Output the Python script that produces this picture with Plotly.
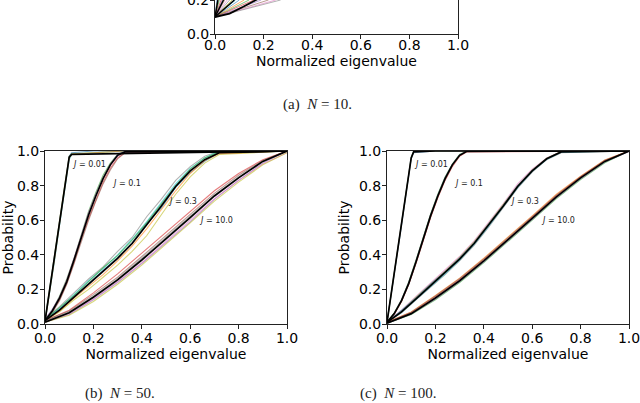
import plotly.graph_objects as go

W, H = 640, 403

# ---------------- data ----------------
J_NAMES = ["0.01", "0.1", "0.3", "10.0"]
LABEL_X = [0.105, 0.27, 0.50, 0.63]
LABEL_Y = [0.92, 0.81, 0.71, 0.60]

# x grids for each J (shared by panels b and c)
X_J001 = [0, 0.02, 0.04, 0.06, 0.08, 0.10, 0.11, 0.20, 0.33, 1.0]
X_J01 = [0, 0.03, 0.06, 0.09, 0.12, 0.15, 0.18, 0.21, 0.24, 0.27, 0.30, 0.33, 1.0]
X_J03 = [0, 0.06, 0.12, 0.18, 0.24, 0.30, 0.36, 0.42, 0.48, 0.54, 0.60, 0.66, 0.72, 1.0]
X_J10 = [0, 0.1, 0.2, 0.3, 0.4, 0.5, 0.6, 0.7, 0.8, 0.9, 1.0]

# ---- panel (b) N = 50 ----
B_J001_BLACK = [0.015, 0.20, 0.39, 0.585, 0.775, 0.965, 0.98, 0.982, 0.985, 1.0]
B_J001_RUNS = [
    [0.02, 0.22, 0.41, 0.60, 0.79, 0.97, 0.985, 0.99, 1.0, 1.0],
    [0.01, 0.18, 0.37, 0.57, 0.76, 0.95, 0.98, 0.99, 1.0, 1.0],
    [0.02, 0.21, 0.40, 0.59, 0.78, 0.97, 0.99, 1.0, 1.0, 1.0],
    [0.01, 0.19, 0.38, 0.58, 0.77, 0.96, 0.98, 0.99, 1.0, 1.0],
]
B_J01_BLACK = [0.02, 0.075, 0.15, 0.245, 0.37, 0.50, 0.63, 0.74, 0.84, 0.92, 0.975, 0.995, 1.0]
B_J01_RUNS = [
    [0.02, 0.08, 0.16, 0.26, 0.38, 0.52, 0.65, 0.76, 0.86, 0.93, 0.98, 1.0, 1.0],
    [0.02, 0.07, 0.14, 0.235, 0.355, 0.49, 0.61, 0.72, 0.82, 0.90, 0.96, 0.99, 1.0],
    [0.03, 0.085, 0.155, 0.25, 0.375, 0.505, 0.64, 0.75, 0.845, 0.925, 0.98, 1.0, 1.0],
    [0.02, 0.065, 0.135, 0.23, 0.35, 0.48, 0.60, 0.71, 0.81, 0.89, 0.955, 0.99, 1.0],
    [0.02, 0.08, 0.155, 0.255, 0.38, 0.515, 0.64, 0.745, 0.84, 0.915, 0.97, 0.995, 1.0],
]
B_J03_BLACK = [0.02, 0.08, 0.155, 0.23, 0.30, 0.38, 0.465, 0.57, 0.68, 0.795, 0.885, 0.95, 0.99, 1.0]
B_J03_RUNS = [
    [0.03, 0.10, 0.18, 0.26, 0.33, 0.42, 0.50, 0.62, 0.72, 0.83, 0.91, 0.97, 1.0, 1.0],
    [0.02, 0.07, 0.14, 0.20, 0.27, 0.34, 0.42, 0.51, 0.63, 0.75, 0.85, 0.93, 0.98, 1.0],
    [0.03, 0.09, 0.17, 0.25, 0.32, 0.40, 0.49, 0.59, 0.70, 0.81, 0.90, 0.96, 1.0, 1.0],
    [0.02, 0.085, 0.16, 0.235, 0.31, 0.385, 0.47, 0.58, 0.67, 0.79, 0.875, 0.94, 0.99, 1.0],
    [0.02, 0.075, 0.15, 0.22, 0.285, 0.365, 0.45, 0.55, 0.66, 0.77, 0.87, 0.945, 0.985, 1.0],
    [0.025, 0.095, 0.165, 0.245, 0.325, 0.395, 0.485, 0.585, 0.695, 0.80, 0.895, 0.96, 0.995, 1.0],
]
B_J10_BLACK = [0.01, 0.065, 0.155, 0.255, 0.37, 0.49, 0.615, 0.74, 0.845, 0.94, 1.0]
B_J10_RUNS = [
    [0.02, 0.08, 0.18, 0.29, 0.41, 0.53, 0.65, 0.77, 0.87, 0.95, 1.0],
    [0.01, 0.055, 0.14, 0.24, 0.35, 0.47, 0.59, 0.72, 0.83, 0.93, 1.0],
    [0.02, 0.075, 0.17, 0.27, 0.39, 0.51, 0.635, 0.755, 0.86, 0.945, 1.0],
    [0.01, 0.06, 0.145, 0.245, 0.355, 0.475, 0.60, 0.725, 0.83, 0.925, 0.99],
    [0.015, 0.07, 0.16, 0.26, 0.38, 0.50, 0.625, 0.745, 0.85, 0.94, 1.0],
    [0.01, 0.05, 0.13, 0.23, 0.34, 0.46, 0.585, 0.71, 0.82, 0.92, 0.99],
]

# ---- panel (c) N = 100 ----
C_J001_BLACK = [0.01, 0.195, 0.385, 0.575, 0.77, 0.96, 0.995, 1.0, 1.0, 1.0]
C_J001_RUNS = [
    [0.01, 0.20, 0.39, 0.58, 0.775, 0.965, 0.998, 1.0, 1.0, 1.0],
    [0.01, 0.19, 0.38, 0.57, 0.765, 0.955, 0.99, 1.0, 1.0, 1.0],
    [0.01, 0.198, 0.39, 0.578, 0.772, 0.962, 0.996, 1.0, 1.0, 1.0],
]
C_J01_BLACK = [0.01, 0.06, 0.135, 0.235, 0.36, 0.495, 0.625, 0.74, 0.84, 0.92, 0.975, 0.998, 1.0]
C_J01_RUNS = [
    [0.01, 0.065, 0.14, 0.245, 0.37, 0.505, 0.635, 0.75, 0.85, 0.925, 0.98, 1.0, 1.0],
    [0.01, 0.055, 0.13, 0.23, 0.35, 0.485, 0.615, 0.73, 0.83, 0.91, 0.97, 0.995, 1.0],
    [0.01, 0.06, 0.14, 0.24, 0.365, 0.50, 0.63, 0.745, 0.845, 0.922, 0.978, 0.999, 1.0],
    [0.01, 0.058, 0.132, 0.232, 0.355, 0.49, 0.62, 0.735, 0.835, 0.915, 0.972, 0.997, 1.0],
]
C_J03_BLACK = [0.01, 0.07, 0.145, 0.22, 0.295, 0.375, 0.465, 0.57, 0.68, 0.795, 0.885, 0.955, 0.995, 1.0]
C_J03_RUNS = [
    [0.01, 0.08, 0.16, 0.235, 0.31, 0.39, 0.48, 0.585, 0.695, 0.81, 0.895, 0.96, 0.998, 1.0],
    [0.01, 0.065, 0.14, 0.21, 0.285, 0.365, 0.455, 0.56, 0.67, 0.785, 0.878, 0.95, 0.99, 1.0],
    [0.01, 0.075, 0.155, 0.228, 0.305, 0.385, 0.475, 0.58, 0.69, 0.80, 0.89, 0.958, 0.997, 1.0],
    [0.01, 0.068, 0.142, 0.215, 0.29, 0.37, 0.46, 0.565, 0.675, 0.79, 0.882, 0.952, 0.993, 1.0],
    [0.01, 0.078, 0.152, 0.23, 0.302, 0.382, 0.47, 0.575, 0.686, 0.80, 0.888, 0.957, 0.996, 1.0],
]
C_J10_BLACK = [0.005, 0.06, 0.15, 0.25, 0.365, 0.485, 0.61, 0.735, 0.845, 0.94, 1.0]
C_J10_RUNS = [
    [0.01, 0.07, 0.165, 0.265, 0.38, 0.50, 0.625, 0.75, 0.855, 0.948, 1.0],
    [0.005, 0.055, 0.14, 0.24, 0.355, 0.475, 0.60, 0.725, 0.835, 0.932, 1.0],
    [0.01, 0.065, 0.158, 0.258, 0.372, 0.492, 0.618, 0.742, 0.85, 0.944, 1.0],
    [0.005, 0.058, 0.145, 0.245, 0.36, 0.48, 0.605, 0.73, 0.84, 0.936, 0.998],
    [0.01, 0.068, 0.162, 0.262, 0.376, 0.496, 0.62, 0.745, 0.852, 0.946, 1.0],
]

# ---- panel (a) N = 10 (only bottom strip visible) ----
A_START = 0.1
A_TOP = 0.2
A_RUN_ENDS = [0.008, 0.012, 0.018, 0.025, 0.03, 0.04, 0.05, 0.06, 0.07, 0.085, 0.10,
              0.12, 0.14, 0.16, 0.19, 0.22, 0.25, 0.27]
A_BLACK_ENDS = [0.012, 0.035, 0.08]
A_J10_X = [0, 0.06, 0.116, 0.158, 0.20, 0.30]
A_J10_Y = [0.1, 0.12, 0.16, 0.19, 0.22, 0.30]

TAB10 = ["31,119,180", "255,127,14", "44,160,44", "214,39,40", "148,103,189",
         "140,86,75", "227,119,194", "127,127,127", "188,189,34", "23,190,207"]

fig = go.Figure()
ci = [0]


def run_color():
    c = TAB10[ci[0] % len(TAB10)]
    ci[0] += 1
    return f"rgba({c},0.6)"


def add_line(x, y, xa, ya, color, width):
    fig.add_trace(go.Scatter(x=x, y=y, mode="lines", xaxis=xa, yaxis=ya,
                             line=dict(color=color, width=width),
                             hoverinfo="skip", showlegend=False))


def add_panel(xa, ya, groups):
    for xs, black, runs in groups:
        for r in runs:
            add_line(xs, r, xa, ya, run_color(), 1.1)
    for xs, black, runs in groups:
        add_line(xs, black, xa, ya, "black", 1.7)
    for name, lx, ly in zip(J_NAMES, LABEL_X, LABEL_Y):
        fig.add_annotation(x=lx, y=ly, xref=xa, yref=ya, text=f"<i>J</i> = {name}",
                           showarrow=False, xanchor="left", yanchor="middle",
                           font=dict(family="DejaVu Sans", size=8, color="#222"))


# panel a
for xe in A_RUN_ENDS:
    add_line([0, xe], [A_START, A_TOP], "x", "y", run_color(), 1.0)
for xe in A_BLACK_ENDS:
    add_line([0, xe], [A_START, A_TOP], "x", "y", "black", 1.5)
add_line(A_J10_X, A_J10_Y, "x", "y", "black", 1.8)

add_panel("x2", "y2", [(X_J001, B_J001_BLACK, B_J001_RUNS), (X_J01, B_J01_BLACK, B_J01_RUNS),
                       (X_J03, B_J03_BLACK, B_J03_RUNS), (X_J10, B_J10_BLACK, B_J10_RUNS)])
add_panel("x3", "y3", [(X_J001, C_J001_BLACK, C_J001_RUNS), (X_J01, C_J01_BLACK, C_J01_RUNS),
                       (X_J03, C_J03_BLACK, C_J03_RUNS), (X_J10, C_J10_BLACK, C_J10_RUNS)])

FONT = dict(family="DejaVu Sans", size=14, color="black")


def xaxis(dom, anchor, lab_shift, title_standoff):
    return dict(domain=dom, anchor=anchor, range=[0, 1], dtick=0.2, tickformat=".1f",
                showline=True, mirror=True, linecolor="#222", linewidth=1,
                ticks="outside", ticklen=4, tickcolor="#222", showgrid=False, zeroline=False,
                automargin=False, ticklabeloverflow="allow", ticklabelstandoff=lab_shift,
                tickfont=FONT,
                title=dict(text="Normalized eigenvalue", font=FONT, standoff=title_standoff))


def yaxis(dom, anchor, rng, title):
    d = dict(domain=dom, anchor=anchor, range=rng, dtick=0.2, tickformat=".1f",
             showline=True, mirror=True, linecolor="#222", linewidth=1,
             ticks="outside", ticklen=4, tickcolor="#222", showgrid=False, zeroline=False,
             automargin=False, ticklabeloverflow="allow", ticklabelstandoff=-2, tickfont=FONT)
    if title:
        d["title"] = dict(text="Probability", font=FONT, standoff=6)
    return d


BY = [1 - 324 / H, 1 - 151 / H]
fig.update_layout(
    width=W, height=H, margin=dict(l=0, r=0, t=0, b=0),
    paper_bgcolor="white", plot_bgcolor="white",
    xaxis=xaxis([215 / W, 458 / W], "y", -6, 2),
    yaxis=yaxis([1 - 34 / H, 1], "x", [0, 0.2], False),
    xaxis2=xaxis([45 / W, 287 / W], "y2", -3, 2),
    yaxis2=yaxis(BY, "x2", [0, 1], True),
    xaxis3=xaxis([387 / W, 629 / W], "y3", -3, 2),
    yaxis3=yaxis(BY, "x3", [0, 1], True),
)

CAP = dict(family="Liberation Serif", size=15, color="#222")
for txt, cx, cy in [("(a)  <i>N</i> = 10.", 317, 104), ("(b)  <i>N</i> = 50.", 120, 393),
                    ("(c)  <i>N</i> = 100.", 398, 393)]:
    fig.add_annotation(x=cx / W, y=1 - cy / H, xref="paper", yref="paper", text=txt,
                       showarrow=False, xanchor="center", yanchor="middle", font=CAP)

fig.write_html("out.html", config={"displayModeBar": False},
               post_script="document.body.style.margin='0px';document.body.style.overflow='hidden';")
